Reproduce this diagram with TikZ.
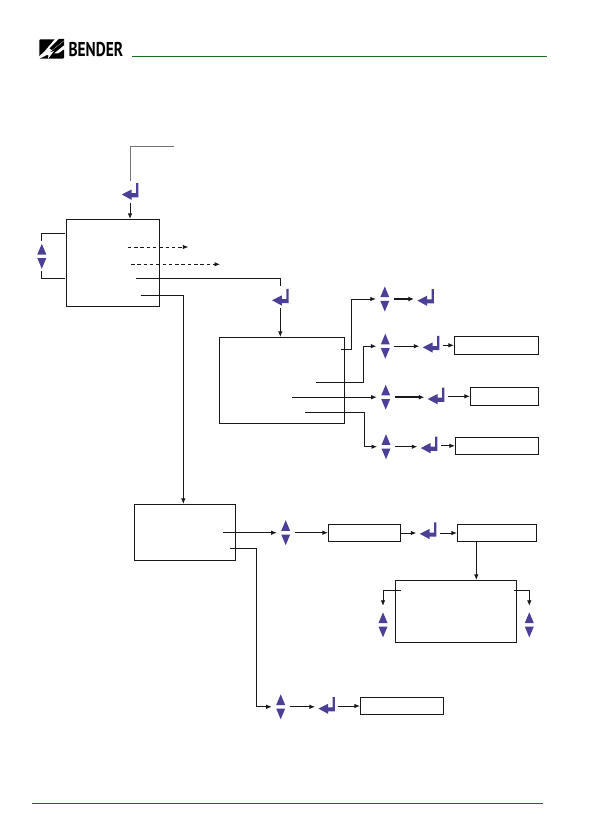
\documentclass[tikz,border=0pt]{standalone}
\usepackage{fontspec}
\usepackage{xcolor}
\usepackage{tikz}
\usetikzlibrary{calc,arrows.meta,positioning}
\newfontfamily\logofont{PT Sans}
\definecolor{keyblue}{HTML}{4B3F96}
\definecolor{rulegreen}{HTML}{1E6B1E}
\tikzset{
  block/.style={draw=black!90, line width=0.85pt, inner sep=0pt},
  arr/.style={-{Latex[length=5.5pt,width=4.5pt]}, line width=0.8pt, black!90},
  boldarr/.style={-{Latex[length=5.5pt,width=5pt]}, line width=1.6pt, black!90},
  dasharr/.style={arr, dash pattern=on 3.5pt off 2.8pt},
  plainline/.style={line width=0.8pt, black!90},
  greyline/.style={line width=0.85pt, black!55},
  greenrule/.style={line width=0.85pt, rulegreen},
  updownkey/.style={minimum width=9pt, minimum height=25pt, inner sep=0pt,
    outer xsep=4.5pt, outer ysep=2.5pt, path picture={
      \fill[keyblue] (-4.5pt,1.8pt) -- (0pt,12.5pt) -- (4.5pt,1.8pt) -- cycle;
      \fill[keyblue] (-4.5pt,-1.8pt) -- (0pt,-12.5pt) -- (4.5pt,-1.8pt) -- cycle;
    }},
  enterkey/.style={minimum width=16.5pt, minimum height=17pt, inner sep=0pt,
    outer xsep=3.5pt, outer ysep=2.5pt, path picture={
      \fill[keyblue] (-8.25pt,-3pt) -- (1.5pt,1.9pt) -- (1.5pt,-1.7pt) -- (6pt,-1.7pt)
        -- (6pt,8.5pt) -- (8.25pt,8.5pt) -- (8.25pt,-5.8pt) -- (1.5pt,-5.8pt)
        -- (1.5pt,-8.3pt) -- cycle;
    }},
  brand/.style={inner sep=0pt, font=\logofont\bfseries\fontsize{20}{20}\selectfont, xscale=0.77}
}
\begin{document}
\begin{tikzpicture}[x=1pt, y=-1pt]
  \useasboundingbox (0,0) rectangle (594,840);

  % page head and foot
  \fill[black, rounded corners=1pt] (39.3,39.3) rectangle (64,58.7);
  \fill[white] (55,39) -- (64.5,39) -- (64.5,40.5) -- (45,56) -- (39,59) -- (39,56.5) -- (44,52) -- cycle;
  \fill[black] (59,39) -- (64,39) -- (64,40.5) -- (52,50) -- (49.5,48.5) -- cycle;
  \fill[white] (41,55.5) -- (50,49.5) -- (49,52.5) -- (54,51) -- (48,58.8) -- (48.5,55) -- cycle;
  \fill[white] (64.5,45) -- (64.5,49) -- (58,53.5) -- (54,53.5) -- cycle;
  \node[brand, anchor=west] (logo) at (68.4,49.4) {BENDER};
  \draw[greenrule] (132,56.3) -- (547,56.3);
  \draw[greenrule] (32,803.3) -- (543,803.3);

  % boxes
  \node[block, minimum width=93pt, minimum height=87pt] (menu) at (112.8,262.8) {};
  \node[block, minimum width=125.4pt, minimum height=86pt] (setup) at (282,380.3) {};
  \node[block, minimum width=101.4pt, minimum height=56pt] (service) at (185,532.3) {};
  \node[block, minimum width=84.4pt, minimum height=18pt] (resb) at (496.5,345.3) {};
  \node[block, minimum width=68.4pt, minimum height=18pt] (resc) at (504.5,396.3) {};
  \node[block, minimum width=83.4pt, minimum height=17pt] (resd) at (497,445.8) {};
  \node[block, minimum width=72.4pt, minimum height=17.4pt] (code) at (364.5,533) {};
  \node[block, minimum width=79.4pt, minimum height=17.4pt] (resf) at (497,533) {};
  \node[block, minimum width=121.4pt, minimum height=62.4pt] (param) at (456,611.5) {};
  \node[block, minimum width=83.4pt, minimum height=17.4pt] (resg) at (402,706) {};

  % keys
  \node[enterkey] (entstart) at (130,191.5) {};
  \node[enterkey] (entsetup) at (280.3,297.3) {};
  \node[enterkey] (enta) at (425.6,297.6) {};
  \node[enterkey] (entb) at (431,344.3) {};
  \node[enterkey] (entc) at (436,396) {};
  \node[enterkey] (entd) at (429,445) {};
  \node[enterkey] (entcode) at (428,530.8) {};
  \node[enterkey] (entg) at (326.7,705.6) {};
  \node[updownkey] (udmenu) at (41.8,256.3) {};
  \node[updownkey] (uda) at (384.8,299) {};
  \node[updownkey] (udb) at (385.3,346.2) {};
  \node[updownkey] (udc) at (385.7,397.2) {};
  \node[updownkey] (udd) at (386,446.7) {};
  \node[updownkey] (udcode) at (285.7,532.7) {};
  \node[updownkey] (udg) at (280.7,706.8) {};
  \node[updownkey] (udleft) at (383,624.8) {};
  \node[updownkey] (udright) at (529.3,624.8) {};

  % line ends inside the boxes
  \coordinate (start) at (174,146);
  \coordinate (loopt) at (65,233.3);
  \coordinate (loopb) at (65,278.3);
  \coordinate (dasha) at (127.7,247);
  \coordinate (dashaend) at (188.3,247);
  \coordinate (dashb) at (131,264.3);
  \coordinate (dashbend) at (220,264.3);
  \coordinate (menusetup) at (136,278.3);
  \coordinate (menuservice) at (141,295.3);
  \coordinate (servicedrop) at (183.3,400);
  \coordinate (setupa) at (341.3,349.3);
  \coordinate (setupb) at (316,382.3);
  \coordinate (setupc) at (292,397.2);
  \coordinate (setupd) at (305,412.3);
  \coordinate (servicecode) at (223,532.7);
  \coordinate (serviceg) at (230,548.3);
  \coordinate (paramleft) at (401,590);
  \coordinate (paramright) at (514.3,590);
  \coordinate (paramdrop) at (476.3,560);

  % top of the chart
  \draw[greyline] (start) -| (entstart.north);
  \draw[arr] (entstart.south) -- (entstart.south |- menu.north);
  \draw[plainline] (loopt) -| (udmenu.north);
  \draw[plainline] (loopb) -| (udmenu.south);
  \draw[dasharr] (dasha) -- (dashaend);
  \draw[dasharr] (dashb) -- (dashbend);
  \draw[plainline] (menusetup) -| (entsetup.north);
  \draw[arr] (entsetup.south) -- (entsetup.south |- setup.north);
  \draw[arr] (menuservice) -| (servicedrop |- service.north);

  % setup branches
  \draw[arr] (setupa) -- ++(10.4,0) |- (uda);
  \draw[arr] (setupb) -- ++(47.3,0) |- (udb);
  \draw[arr] (setupc) -- (udc);
  \draw[arr] (setupd) -- ++(59.3,0) |- (udd);
  \draw[boldarr] (uda) -- (uda -| enta.west);
  \draw[arr] (udb) -- (udb -| entb.west);
  \draw[boldarr] (udc) -- (udc -| entc.west);
  \draw[arr] (udd) -- (udd -| entd.west);
  \draw[arr] (entb.east |- resb) -- (resb);
  \draw[arr] (entc.east |- resc) -- (resc);
  \draw[arr] (entd.east |- resd) -- (resd);

  % service branches
  \draw[arr] (servicecode) -- (udcode);
  \draw[arr] (udcode) -- (udcode -| code.west);
  \draw[arr] (code) -- (code -| entcode.west);
  \draw[arr] (entcode.east |- resf) -- (resf);
  \draw[arr] (paramdrop |- resf.south) -- (paramdrop |- param.north);
  \draw[arr, shorten >=4pt] (paramleft) -| (udleft.north);
  \draw[arr, shorten >=4pt] (paramright) -| (udright.north);
  \draw[arr] (serviceg) -- ++(26.3,0) |- (udg);
  \draw[arr] (udg) -- (udg -| entg.west);
  \draw[arr] (entg.east |- resg) -- (resg);
\end{tikzpicture}
\end{document}
